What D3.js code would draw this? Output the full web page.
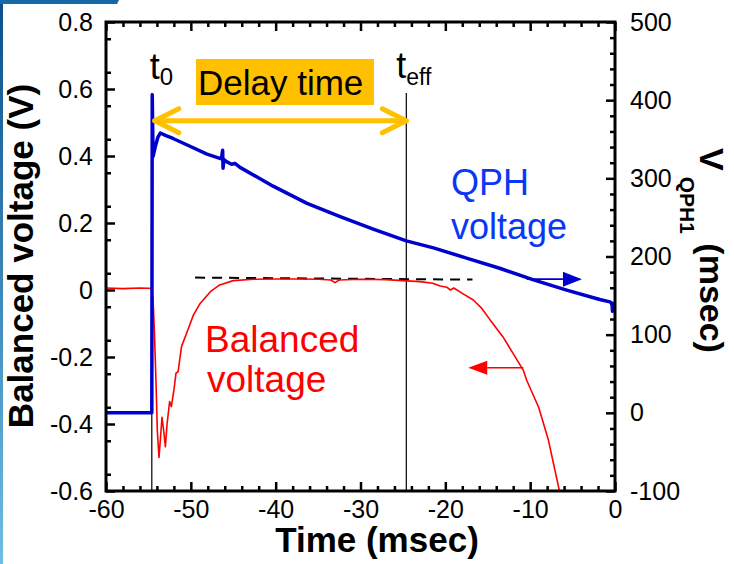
<!DOCTYPE html>
<html>
<head>
<meta charset="utf-8">
<script src="https://cdn.jsdelivr.net/npm/d3@7"></script>
<style>
  body { margin: 0; background: #fff; }
  svg { display: block; }
  text { font-family: "Liberation Sans", Arial, sans-serif; }
</style>
</head>
<body>
<svg id="chart" width="734" height="564"></svg>
<script>
// Balanced voltage trace (left axis, V) against time (ms)
const balancedTime = [-60, -58, -56, -55, -54.6, -54.45, -54.3, -54.1, -53.95, -53.75, -53.6, -53.4, -53.2, -53.0,
  -52.8, -52.5, -52.3, -52.0, -51.75, -51.5, -51.1, -50.5, -49.7, -48.9, -47.7, -46.6, -45.0, -42.6, -40, -37, -35,
  -33.5, -33, -32.5, -30, -27, -25, -23, -21.5, -20.6, -19.8, -19.4, -19.0, -18, -16.7, -15.7, -14.7, -13.2, -12.0,
  -10.8, -10.4, -9.0, -7.85, -6.55];
const balancedVolt = [0.006, 0.004, 0.006, 0.005, 0.004, -0.03, -0.12, -0.28, -0.42, -0.50, -0.45, -0.38, -0.42, -0.468,
  -0.40, -0.333, -0.348, -0.30, -0.248, -0.244, -0.169, -0.129, -0.075, -0.04, -0.005, 0.015, 0.028, 0.032, 0.033, 0.033, 0.032,
  0.030, 0.022, 0.030, 0.032, 0.031, 0.028, 0.025, 0.020, 0.012, 0.008, 0.0, 0.006, -0.01, -0.03, -0.055, -0.09, -0.14, -0.19,
  -0.24, -0.27, -0.35, -0.448, -0.60];

// QPH voltage trace (right axis) against time (ms)
const qphTime = [-60, -54.6, -54.55, -54.45, -54.2, -53.9, -53.6, -53.0, -52.1, -50.1, -48.1, -46.4, -46.25, -46.2,
  -46.1, -45.9, -45.2, -44.8, -44.2, -40.3, -36.3, -32.4, -28.5, -24.6, -21.4, -17.5, -13.6, -9.6, -5.7, -1.8, -0.6,
  -0.35, -0.3, -0.2, 0];
const qphVolt = [0, 0, 407, 328, 340, 352, 358, 355, 351, 341, 331, 325, 336, 313,
  324, 322, 318, 319, 314, 290, 268, 251, 235, 220, 211, 198, 185, 170, 157, 145, 142,
  140, 130, 140, 138];

// Axis ticks
const xTicks = [-60, -50, -40, -30, -20, -10, 0];
const leftTicks = [-0.6, -0.4, -0.2, 0, 0.2, 0.4, 0.6, 0.8];
const rightTicks = [-100, 0, 100, 200, 300, 400, 500];

// Event markers and annotations
const t0Time = -54.6;
const teffTime = -24.6;
const plateauTime = [-49.5, -16.8];
const plateauVolt = [0.037, 0.031];
const delayArrowVolt = 0.505;
const qphArrowTime = [-10.4, -3.9];
const qphArrowValue = 171;
const balArrowTime = [-10.8, -17.3];
const balArrowVolt = -0.232;

const svg = d3.select("#chart");
const W = 734, H = 564;
const m = { left: 106, right: 615, top: 22, bottom: 491 };

svg.append("rect").attr("width", W).attr("height", H).attr("fill", "#fff");

// Slide decoration along the left and top edges
const defs = svg.append("defs");
const g1 = defs.append("linearGradient").attr("id", "edgeGrad").attr("x1", 0).attr("y1", 0).attr("x2", 0).attr("y2", 1);
g1.append("stop").attr("offset", "0%").attr("stop-color", "#0b4f8c");
g1.append("stop").attr("offset", "100%").attr("stop-color", "#6cbfe3");
svg.append("rect").attr("x", 0).attr("y", 0).attr("width", 3).attr("height", H).attr("fill", "url(#edgeGrad)");
svg.append("path").attr("d", "M0,0 L119,0 L117,4 L0,4 Z").attr("fill", "#1669a6");

defs.append("clipPath").attr("id", "plotClip")
  .append("rect").attr("x", m.left).attr("y", m.top).attr("width", m.right - m.left).attr("height", m.bottom - m.top);

const x = d3.scaleLinear().domain([-60, 0]).range([m.left, m.right]);
const yL = d3.scaleLinear().domain([-0.6, 0.8]).range([m.bottom, m.top]);
const yR = d3.scaleLinear().domain([-100, 500]).range([m.bottom, m.top]);

const fmt = d => {
  if (Math.abs(d) < 1e-9) return "0";
  const s = Number.isInteger(d) ? String(Math.abs(d)) : Math.abs(d).toFixed(1);
  return (d < 0 ? "-" : "") + s;
};

const xMinor = d3.range(-60, 0.001, 2).filter(v => Math.abs(v % 10) > 1e-6);
const lMinor = d3.range(-0.6, 0.8001, 0.05).map(v => +v.toFixed(2)).filter(v => Math.abs(Math.round(v * 10) - v * 10) > 1e-6);
const rMinor = d3.range(-100, 500.001, 20).filter(v => v % 100 !== 0);

function tickStyle(g) {
  g.select(".domain").remove();
  g.selectAll(".tick line").attr("stroke", "#000").attr("stroke-width", 2.5);
  g.selectAll("text").attr("font-size", 25).attr("fill", "#000")
    .attr("font-family", '"Liberation Sans", Arial, sans-serif');
}

// Inward ticks on all four sides
const axesG = svg.append("g");
axesG.append("g").attr("transform", `translate(0,${m.bottom})`)
  .call(d3.axisBottom(x).tickValues(xTicks).tickSize(-9).tickFormat("")).call(tickStyle);
axesG.append("g").attr("transform", `translate(0,${m.bottom})`)
  .call(d3.axisBottom(x).tickValues(xMinor).tickSize(-5).tickFormat("")).call(tickStyle);
axesG.append("g").attr("transform", `translate(0,${m.top})`)
  .call(d3.axisTop(x).tickValues(xTicks).tickSize(-9).tickFormat("")).call(tickStyle);
axesG.append("g").attr("transform", `translate(0,${m.top})`)
  .call(d3.axisTop(x).tickValues(xMinor).tickSize(-5).tickFormat("")).call(tickStyle);
axesG.append("g").attr("transform", `translate(${m.left},0)`)
  .call(d3.axisLeft(yL).tickValues(leftTicks).tickSize(-9).tickFormat("")).call(tickStyle);
axesG.append("g").attr("transform", `translate(${m.left},0)`)
  .call(d3.axisLeft(yL).tickValues(lMinor).tickSize(-5).tickFormat("")).call(tickStyle);
axesG.append("g").attr("transform", `translate(${m.right},0)`)
  .call(d3.axisRight(yR).tickValues(rightTicks).tickSize(-9).tickFormat("")).call(tickStyle);
axesG.append("g").attr("transform", `translate(${m.right},0)`)
  .call(d3.axisRight(yR).tickValues(rMinor).tickSize(-5).tickFormat("")).call(tickStyle);

// Tick labels
axesG.append("g").attr("transform", `translate(0,${m.bottom})`)
  .call(d3.axisBottom(x).tickValues(xTicks).tickSize(0).tickPadding(9).tickFormat(fmt)).call(tickStyle);
axesG.append("g").attr("transform", `translate(${m.left},0)`)
  .call(d3.axisLeft(yL).tickValues(leftTicks).tickSize(0).tickPadding(13).tickFormat(fmt)).call(tickStyle);
axesG.append("g").attr("transform", `translate(${m.right},0)`)
  .call(d3.axisRight(yR).tickValues(rightTicks).tickSize(0).tickPadding(15).tickFormat(fmt)).call(tickStyle);

// Event lines at t0 and t_eff
const evY = 93;
[t0Time, teffTime].forEach(t => {
  svg.append("line").attr("x1", x(t)).attr("x2", x(t)).attr("y1", evY).attr("y2", m.bottom)
    .attr("stroke", "#000").attr("stroke-width", 1.2);
});

const plot = svg.append("g").attr("clip-path", "url(#plotClip)");

// Plateau reference (dashed)
plot.append("line")
  .attr("x1", x(plateauTime[0])).attr("y1", yL(plateauVolt[0]))
  .attr("x2", x(plateauTime[1])).attr("y2", yL(plateauVolt[1]))
  .attr("stroke", "#000").attr("stroke-width", 2).attr("stroke-dasharray", "10,7");

// Balanced voltage
const balLine = d3.line().x((d, i) => x(balancedTime[i])).y(d => yL(d));
plot.append("path").datum(balancedVolt).attr("d", balLine)
  .attr("fill", "none").attr("stroke", "#ff0000").attr("stroke-width", 1.6).attr("stroke-linejoin", "round");

// QPH voltage
const qphLine = d3.line().x((d, i) => x(qphTime[i])).y(d => yR(d));
plot.append("path").datum(qphVolt).attr("d", qphLine)
  .attr("fill", "none").attr("stroke", "#0000cc").attr("stroke-width", 3.5).attr("stroke-linejoin", "round");

// Plot frame
svg.append("rect").attr("x", m.left).attr("y", m.top)
  .attr("width", m.right - m.left).attr("height", m.bottom - m.top)
  .attr("fill", "none").attr("stroke", "#000").attr("stroke-width", 3);

// Delay-time double arrow
const orange = "#ffc000";
const ay = yL(delayArrowVolt), ax0 = x(t0Time) + 3, ax1 = x(teffTime);
svg.append("line").attr("x1", ax0).attr("x2", ax1).attr("y1", ay).attr("y2", ay)
  .attr("stroke", orange).attr("stroke-width", 5).attr("stroke-linecap", "round");
svg.append("path")
  .attr("d", `M${ax0 + 24},${ay - 12} L${ax0},${ay} L${ax0 + 24},${ay + 12} M${ax1 - 24},${ay - 12} L${ax1},${ay} L${ax1 - 24},${ay + 12}`)
  .attr("fill", "none").attr("stroke", orange).attr("stroke-width", 5)
  .attr("stroke-linecap", "round").attr("stroke-linejoin", "round");

// "Delay time" label on orange box
svg.append("rect").attr("x", 196).attr("y", 59).attr("width", 178).attr("height", 46).attr("fill", orange);
svg.append("text").attr("x", 198).attr("y", 95).attr("font-size", 35).attr("fill", "#000").text("Delay time");

// t0 and t_eff labels
const t0Label = svg.append("text").attr("x", x(t0Time) - 2).attr("y", 79).attr("font-size", 36).attr("fill", "#000");
t0Label.append("tspan").text("t");
t0Label.append("tspan").attr("font-size", 24).attr("dy", 6).text("0");
const teffLabel = svg.append("text").attr("x", x(teffTime) - 10).attr("y", 78).attr("font-size", 36).attr("fill", "#000");
teffLabel.append("tspan").text("t");
teffLabel.append("tspan").attr("font-size", 23).attr("dy", 7).text("eff");

// Series labels
const qphBlue = "#0a37f5";
svg.append("text").attr("x", 451).attr("y", 195).attr("font-size", 36).attr("fill", qphBlue).text("QPH");
svg.append("text").attr("x", 451).attr("y", 239).attr("font-size", 36).attr("fill", qphBlue).text("voltage");
svg.append("text").attr("x", 205).attr("y", 352).attr("font-size", 37).attr("fill", "#ff0000").text("Balanced");
svg.append("text").attr("x", 207).attr("y", 392).attr("font-size", 37).attr("fill", "#ff0000").text("voltage");

// Axis-direction arrows
function arrow(xFrom, xTo, yPos, color, headLen, headHalf) {
  const dir = Math.sign(xTo - xFrom);
  svg.append("line").attr("x1", xFrom).attr("x2", xTo - dir * headLen).attr("y1", yPos).attr("y2", yPos)
    .attr("stroke", color).attr("stroke-width", 1.6);
  svg.append("path")
    .attr("d", `M${xTo},${yPos} L${xTo - dir * headLen},${yPos - headHalf} L${xTo - dir * headLen},${yPos + headHalf} Z`)
    .attr("fill", color);
}
arrow(x(qphArrowTime[0]), x(qphArrowTime[1]), yR(qphArrowValue), "#0000cc", 19, 7.5);
arrow(x(balArrowTime[0]), x(balArrowTime[1]), yL(balArrowVolt), "#ff0000", 19, 7);

// Axis titles
svg.append("text").attr("x", 377).attr("y", 552).attr("text-anchor", "middle")
  .attr("font-size", 35).attr("font-weight", "bold").attr("fill", "#000").text("Time (msec)");
svg.append("text").attr("transform", "translate(33,256) rotate(-90)").attr("text-anchor", "middle")
  .attr("font-size", 35).attr("font-weight", "bold").attr("fill", "#000").text("Balanced voltage (V)");
const rt = svg.append("text").attr("transform", "translate(700,148) rotate(90)")
  .attr("font-weight", "bold").attr("fill", "#000");
rt.append("tspan").attr("font-size", 34).text("V");
rt.append("tspan").attr("font-size", 21).attr("dy", 20).attr("dx", 6).text("QPH1");
rt.append("tspan").attr("font-size", 34).attr("dy", -20).text(" (msec)");
</script>
</body>
</html>
